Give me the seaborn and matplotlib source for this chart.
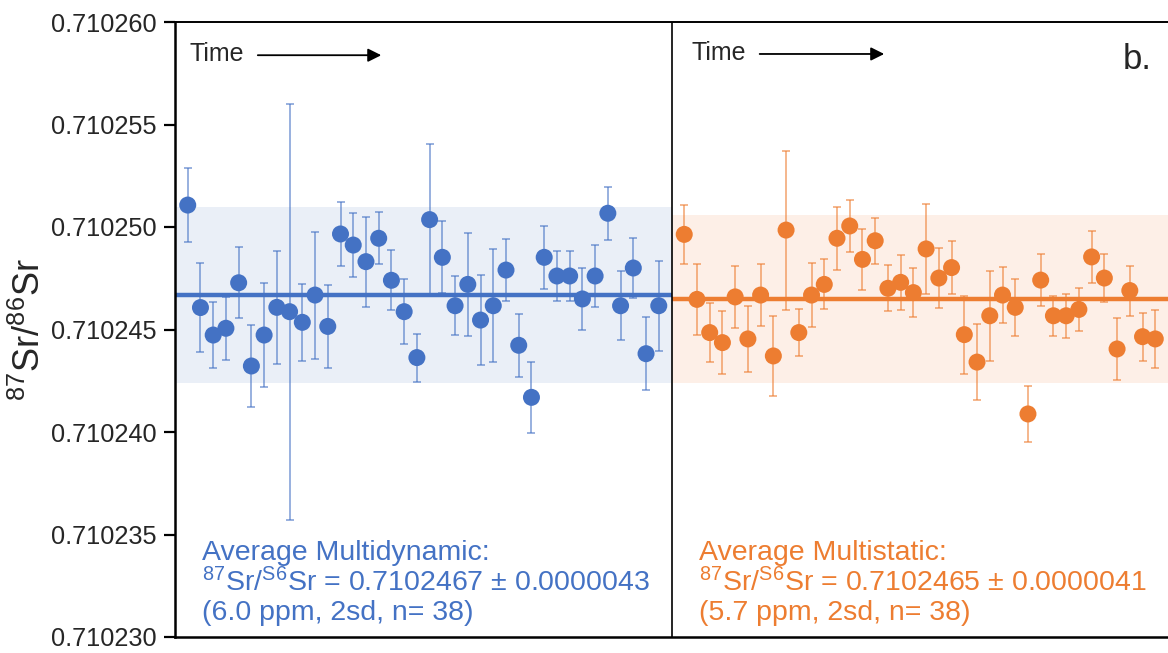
import numpy as np
import pandas as pd
import matplotlib
matplotlib.use("Agg")
import matplotlib.pyplot as plt
from matplotlib.ticker import StrMethodFormatter
import seaborn as sns

# 87Sr/86Sr runs, multidynamic (left) and multistatic (right)
multidynamic = [0.71025107, 0.71024607, 0.71024473, 0.71024506, 0.71024728, 0.71024322,
                0.71024473, 0.71024608, 0.71024587, 0.71024535, 0.71024668, 0.71024515,
                0.71024966, 0.71024912, 0.71024831, 0.71024945, 0.71024740, 0.71024587,
                0.71024363, 0.71025036, 0.71024852, 0.71024616, 0.71024720, 0.71024546,
                0.71024616, 0.71024790, 0.71024423, 0.71024169, 0.71024852, 0.71024761,
                0.71024761, 0.71024649, 0.71024761, 0.71025067, 0.71024616, 0.71024800,
                0.71024382, 0.71024616]
multidynamic_err = [1.80, 2.15, 1.63, 1.53, 1.73, 1.98, 2.53, 2.75, 10.15, 1.88, 3.10, 2.03,
                    1.58, 1.57, 2.20, 1.27, 1.46, 1.57, 1.17, 3.70, 1.75, 1.43, 2.50, 2.20,
                    2.75, 1.53, 1.53, 1.73, 1.53, 1.23, 1.20, 1.49, 1.49, 1.28, 1.68, 1.48,
                    1.78, 2.20]  # in 1e-6

multistatic = [0.71024964, 0.71024647, 0.71024485, 0.71024436, 0.71024659, 0.71024454,
               0.71024668, 0.71024371, 0.71024985, 0.71024485, 0.71024668, 0.71024720,
               0.71024945, 0.71025005, 0.71024842, 0.71024933, 0.71024701, 0.71024730,
               0.71024680, 0.71024893, 0.71024751, 0.71024802, 0.71024475, 0.71024341,
               0.71024567, 0.71024668, 0.71024608, 0.71024088, 0.71024741, 0.71024567,
               0.71024567, 0.71024598, 0.71024854, 0.71024751, 0.71024405, 0.71024690,
               0.71024465, 0.71024454]
multistatic_err = [1.43, 1.74, 1.43, 1.53, 1.53, 1.63, 1.53, 1.95, 3.88, 1.13, 1.58, 1.22,
                   1.53, 1.28, 1.47, 1.12, 1.13, 1.33, 1.18, 2.20, 1.48, 1.28, 1.90, 1.84,
                   2.20, 1.38, 1.38, 1.38, 1.28, 0.98, 1.07, 1.03, 1.28, 1.17, 1.53, 1.22,
                   1.17, 1.43]  # in 1e-6

mean_md, sd2_md = 0.7102467, 0.0000043
mean_ms, sd2_ms = 0.7102465, 0.0000041

yticks = [0.710230, 0.710235, 0.710240, 0.710245, 0.710250, 0.710255, 0.710260]

blue = "#4472C4"
orange = "#ED7D31"

n_md = len(multidynamic)
split = n_md + 1
df = pd.DataFrame({
    "run": list(range(1, n_md + 1)) + list(range(split + 1, split + 1 + len(multistatic))),
    "ratio": multidynamic + multistatic,
    "err": [e * 1e-6 for e in multidynamic_err + multistatic_err],
    "mode": ["Multidynamic"] * n_md + ["Multistatic"] * len(multistatic),
})
x_end = df["run"].max() + 1

sns.set_style("white")
plt.rcParams["font.family"] = ["Liberation Sans", "DejaVu Sans"]
plt.rcParams["mathtext.fontset"] = "custom"
plt.rcParams["mathtext.rm"] = "Liberation Sans"
plt.rcParams["mathtext.default"] = "regular"

fig = plt.figure(figsize=(11.68, 6.53), dpi=100)
ax = fig.add_axes([175 / 1168, 16 / 653, 993 / 1168, 615 / 653])

# 2sd bands and averages
ax.fill_between([0, split], mean_md - sd2_md, mean_md + sd2_md, color="#EAEFF7", lw=0, zorder=0)
ax.fill_between([split, x_end], mean_ms - sd2_ms, mean_ms + sd2_ms, color="#FDEFE7", lw=0, zorder=0)
ax.plot([0, split], [mean_md, mean_md], color=blue, lw=3.2, zorder=2, solid_capstyle="butt")
ax.plot([split, x_end], [mean_ms, mean_ms], color=orange, lw=3.2, zorder=2, solid_capstyle="butt")

for mode, col in [("Multidynamic", blue), ("Multistatic", orange)]:
    d = df[df["mode"] == mode]
    ax.errorbar(d["run"], d["ratio"], yerr=d["err"], fmt="none", ecolor=col,
                elinewidth=1.1, capsize=2.8, capthick=1.1, alpha=0.7, zorder=3)

sns.scatterplot(data=df, x="run", y="ratio", hue="mode", palette=[blue, orange],
                s=150, linewidth=0, legend=False, ax=ax, zorder=4)

ax.axvline(split, color="black", lw=1.2, zorder=5)

ax.set_xlim(0, x_end)
ax.set_ylim(yticks[0], yticks[-1])
ax.set_yticks(yticks)
ax.yaxis.set_major_formatter(StrMethodFormatter("{x:.6f}"))
ax.set_xticks([])
ax.set_xlabel("")
ax.tick_params(axis="y", direction="out", length=8, width=1.6, labelsize=18.3, pad=5,
               left=True, color="black")
ax.set_ylabel(r"$^{87}$Sr/$^{86}$Sr", fontsize=26, labelpad=0)
ax.yaxis.set_label_coords(-0.128, 0.5)

for side in ["left", "bottom", "top"]:
    ax.spines[side].set_color("black")
ax.spines["left"].set_linewidth(1.8)
ax.spines["bottom"].set_linewidth(1.8)
ax.spines["top"].set_linewidth(1.4)
ax.spines["right"].set_visible(False)

# time arrows
ax.text(0.0141, 0.948, "Time", transform=ax.transAxes, fontsize=18, va="center", ha="left")
ax.annotate("", xy=(0.2105, 0.946), xytext=(0.0806, 0.946), xycoords="axes fraction",
            arrowprops=dict(arrowstyle="-|>", color="black", lw=1.3, mutation_scale=20))
ax.text(0.5206, 0.9496, "Time", transform=ax.transAxes, fontsize=18, va="center", ha="left")
ax.annotate("", xy=(0.717, 0.948), xytext=(0.586, 0.948), xycoords="axes fraction",
            arrowprops=dict(arrowstyle="-|>", color="black", lw=1.3, mutation_scale=20))

ax.text(0.983, 0.9236, "b.", transform=ax.transAxes, fontsize=25, ha="right", va="baseline")

# averages
lines_md = ["Average Multidynamic:",
            r"$^{87}$Sr/$^{S6}$Sr = 0.7102467 ± 0.0000043",
            "(6.0 ppm, 2sd, n= 38)"]
lines_ms = ["Average Multistatic:",
            r"$^{87}$Sr/$^{S6}$Sr = 0.7102465 ± 0.0000041",
            "(5.7 ppm, 2sd, n= 38)"]
for yy, t1, t2 in zip([0.1252, 0.0748, 0.0276], lines_md, lines_ms):
    ax.text(0.0272, yy, t1, transform=ax.transAxes, fontsize=20.5, color=blue, va="baseline")
    ax.text(0.5277, yy, t2, transform=ax.transAxes, fontsize=20.5, color=orange, va="baseline")

fig.savefig("out.png", dpi=100)
